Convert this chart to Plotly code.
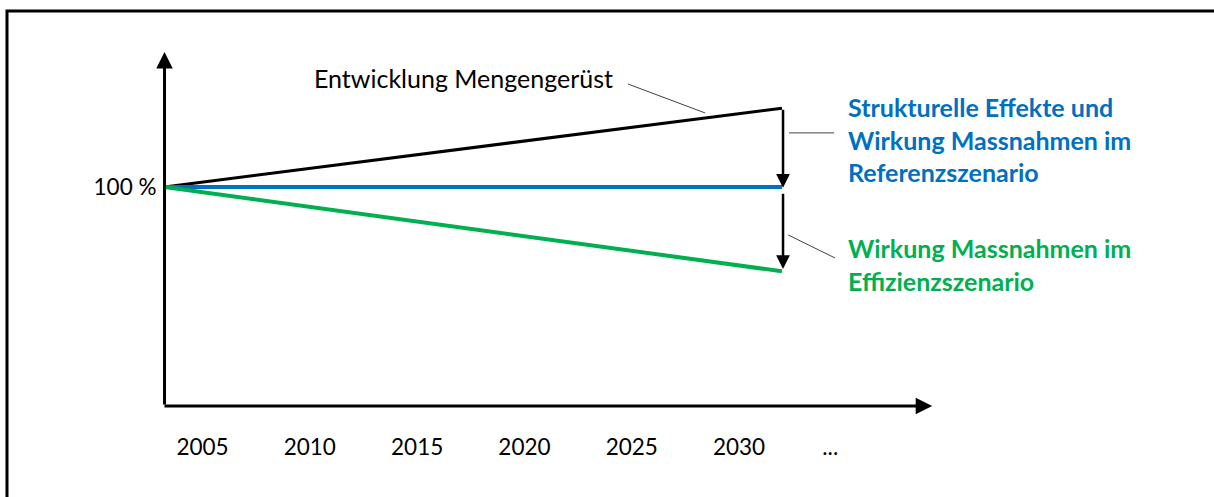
import plotly.graph_objects as go

# ---- data (schematic) ----
tick_years = [2005, 2010, 2015, 2020, 2025, 2030, 2034.25]
tick_labels = ["2005", "2010", "2015", "2020", "2025", "2030", "..."]

axis_origin_x = 2003.23
axis_end_x = 2039.0
axis_top_y = 161.6

scenario_x = [2003.23, 2032.0]
mengengeruest = [100, 136]
referenz = [100, 100]
effizienz = [100, 61.5]

arrow_x = 2032.05
arrow1 = [136, 99.6]   # tail, head
arrow2 = [97.6, 62.5]

leader_menge_x = [2024.83, 2028.42]
leader_menge_y = [147.0, 133.8]
leader_ref_x = [2032.33, 2034.43]
leader_ref_y = [124.7, 124.7]
leader_eff_x = [2032.29, 2034.47]
leader_eff_y = [78.1, 67.6]

FONT = "Lato"
BLUE = "#0070C0"
GREEN = "#00B050"

fig = go.Figure()

fig.add_trace(go.Scatter(x=scenario_x, y=mengengeruest, mode="lines",
                         line=dict(color="black", width=3), hoverinfo="skip"))
fig.add_trace(go.Scatter(x=scenario_x, y=referenz, mode="lines",
                         line=dict(color=BLUE, width=4), hoverinfo="skip"))
fig.add_trace(go.Scatter(x=scenario_x, y=effizienz, mode="lines",
                         line=dict(color=GREEN, width=4), hoverinfo="skip"))
for lx, ly in [(leader_menge_x, leader_menge_y), (leader_ref_x, leader_ref_y),
               (leader_eff_x, leader_eff_y)]:
    fig.add_trace(go.Scatter(x=lx, y=ly, mode="lines",
                             line=dict(color="#404040", width=1), hoverinfo="skip"))

ann = []
# axes as arrows
ann.append(dict(x=axis_origin_x, y=axis_top_y, ax=axis_origin_x, ay=0,
                xref="x", yref="y", axref="x", ayref="y", text="", showarrow=True,
                arrowhead=2, arrowsize=1.1, arrowwidth=3, arrowcolor="black", standoff=0))
ann.append(dict(x=axis_end_x, y=0, ax=axis_origin_x - 0.07, ay=0,
                xref="x", yref="y", axref="x", ayref="y", text="", showarrow=True,
                arrowhead=2, arrowsize=1.1, arrowwidth=3, arrowcolor="black", standoff=0))
# vertical arrows
ann.append(dict(x=arrow_x, y=arrow1[1], ax=arrow_x, ay=arrow1[0],
                xref="x", yref="y", axref="x", ayref="y", text="", showarrow=True,
                arrowhead=2, arrowsize=1.1, arrowwidth=2.5, arrowcolor="black", standoff=0))
ann.append(dict(x=arrow_x, y=arrow2[1], ax=arrow_x, ay=arrow2[0],
                xref="x", yref="y", axref="x", ayref="y", text="", showarrow=True,
                arrowhead=2, arrowsize=1.1, arrowwidth=2.5, arrowcolor="black", standoff=0))
# texts
ann.append(dict(x=2010.10, y=149.8, xref="x", yref="y", text="Entwicklung Mengengerüst",
                showarrow=False, xanchor="left", yanchor="middle",
                font=dict(family=FONT, size=25, color="black")))
ann.append(dict(x=2035.0, y=121.7, xref="x", yref="y",
                text="<b>Strukturelle Effekte und<br>Wirkung Massnahmen im<br>Referenzszenario</b>",
                showarrow=False, xanchor="left", yanchor="middle", align="left",
                font=dict(family=FONT, size=25, color=BLUE)))
ann.append(dict(x=2035.0, y=64.4, xref="x", yref="y",
                text="<b>Wirkung Massnahmen im<br>Effizienzszenario</b>",
                showarrow=False, xanchor="left", yanchor="middle", align="left",
                font=dict(family=FONT, size=25, color=GREEN)))

fig.update_layout(
    width=1214, height=497,
    margin=dict(l=164, r=264, t=40, b=81),
    paper_bgcolor="white", plot_bgcolor="white",
    showlegend=False,
    annotations=ann,
    shapes=[dict(type="rect", xref="paper", yref="paper",
                 x0=-0.19975, x1=1.3435, y0=-0.2367, y1=1.0771,
                 line=dict(color="black", width=3), fillcolor="rgba(0,0,0,0)")],
    xaxis=dict(range=[2003.206, 2039.83], showgrid=False, zeroline=False, showline=False,
               tickmode="array", tickvals=tick_years, ticktext=tick_labels,
               ticks="outside", ticklen=11, tickcolor="rgba(0,0,0,0)",
               tickfont=dict(family=FONT, size=22.5, color="black")),
    yaxis=dict(range=[-4.566, 167.12], showgrid=False, zeroline=False, showline=False,
               tickmode="array", tickvals=[100], ticktext=["100 %"],
               ticks="outside", ticklen=2, tickcolor="rgba(0,0,0,0)",
               tickfont=dict(family=FONT, size=22.5, color="black")),
)

fig.write_html("out.html", config={"displayModeBar": False},
               post_script="document.body.style.margin='0';")
